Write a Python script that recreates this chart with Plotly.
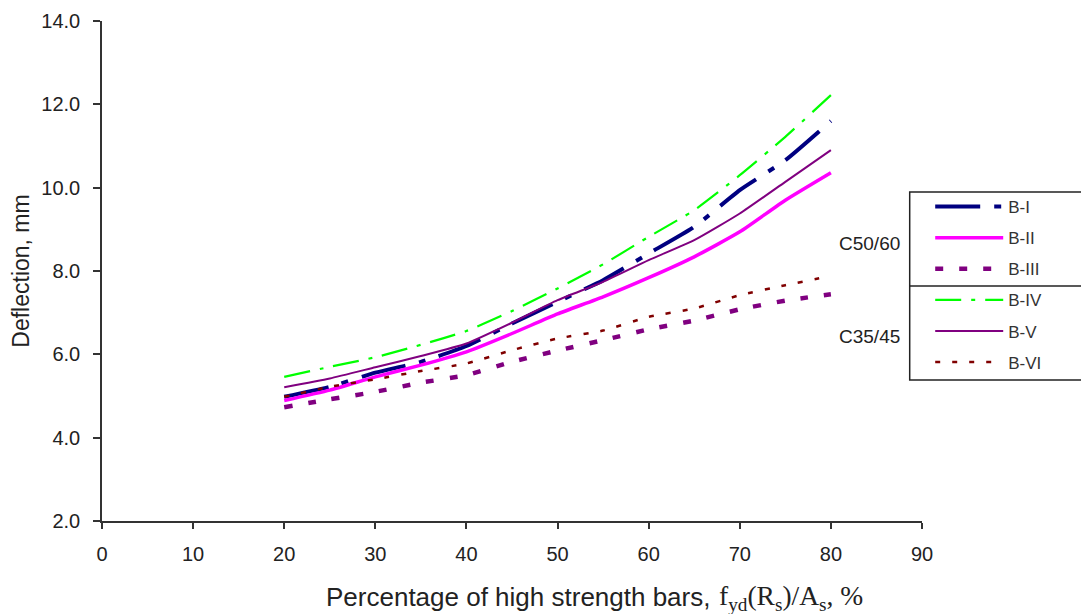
import plotly.graph_objects as go

x_pct = [20, 25, 30, 35, 40, 45, 50, 55, 60, 65, 70, 75, 80]
b1 = [4.98, 5.22, 5.56, 5.82, 6.20, 6.74, 7.26, 7.78, 8.42, 9.06, 9.94, 10.66, 11.60]
b2 = [4.89, 5.14, 5.46, 5.74, 6.06, 6.50, 6.97, 7.38, 7.84, 8.34, 8.94, 9.70, 10.36]
b3 = [4.73, 4.92, 5.10, 5.32, 5.50, 5.82, 6.09, 6.34, 6.60, 6.81, 7.08, 7.29, 7.44]
b4 = [5.46, 5.70, 5.93, 6.23, 6.56, 7.04, 7.58, 8.16, 8.82, 9.46, 10.30, 11.22, 12.22]
b5 = [5.21, 5.42, 5.69, 5.96, 6.26, 6.76, 7.30, 7.74, 8.26, 8.74, 9.38, 10.14, 10.90]
b6 = [4.98, 5.22, 5.40, 5.60, 5.78, 6.10, 6.38, 6.57, 6.90, 7.10, 7.42, 7.66, 7.88]

series_names = ["B-I", "B-II", "B-III", "B-IV", "B-V", "B-VI"]
series_values = [b1, b2, b3, b4, b5, b6]
styles = [
    dict(color="#000080", width=4, dash="45px,14px,7px,14px"),
    dict(color="#FF00FF", width=3.5, dash="solid"),
    dict(color="#800080", width=4.5, dash="8px,16px"),
    dict(color="#00FF00", width=2.2, dash="26px,10px,4px,10px"),
    dict(color="#800080", width=2, dash="solid"),
    dict(color="#800000", width=2.5, dash="5px,12px"),
]

x_title_text = "Percentage of high strength bars,"
x_title_formula = "f<sub>yd</sub>(R<sub>s</sub>)/A<sub>s</sub>, %"

fig = go.Figure()
for name, ys, st in zip(series_names, series_values, styles):
    fig.add_trace(go.Scatter(
        x=x_pct, y=ys, name=name, mode="lines",
        line=dict(shape="spline", smoothing=0.5, **st),
        legendgroup=name,
    ))

fig.update_layout(
    width=1089, height=614,
    margin=dict(l=94, r=175, t=13, b=101, autoexpand=False),
    paper_bgcolor="white", plot_bgcolor="white",
    font=dict(family="Liberation Sans, Arial, sans-serif", color="#222"),
    showlegend=True,
    legend=dict(
        x=1.010, y=0.664, xanchor="left", yanchor="top",
        bgcolor="rgba(0,0,0,0)", borderwidth=0,
        font=dict(size=17, color="#333"),
        itemwidth=68, tracegroupgap=6,
        traceorder="grouped",
    ),
    xaxis=dict(
        range=[0, 90], tickvals=list(range(0, 91, 10)),
        showline=True, linecolor="#333", linewidth=1.5,
        ticks="outside", ticklen=6, tickcolor="#333", tickwidth=1.5,
        ticklabelstandoff=8,
        showgrid=False, zeroline=False,
        tickfont=dict(size=20, color="#222"),
    ),
    yaxis=dict(
        range=[2, 14], tickvals=[2, 4, 6, 8, 10, 12, 14], tickformat=".1f",
        showline=True, linecolor="#333", linewidth=1.5,
        ticks="outside", ticklen=7, tickcolor="#333", tickwidth=1.5,
        ticklabelstandoff=9,
        showgrid=False, zeroline=False,
        tickfont=dict(size=20, color="#222"),
        title=dict(text="Deflection, mm", font=dict(size=23, color="#222"), standoff=10),
    ),
    shapes=[
        dict(type="rect", xref="paper", yref="paper", x0=0.985, x1=1.30, y0=0.282, y1=0.658,
             line=dict(color="#222", width=1.5), fillcolor="rgba(0,0,0,0)"),
        dict(type="line", xref="paper", yref="paper", x0=0.985, x1=1.30, y0=0.47, y1=0.47,
             line=dict(color="#222", width=1.5)),
    ],
    annotations=[
        dict(text=x_title_text, xref="paper", yref="paper", x=0.7439, y=-0.152, xanchor="right",
             yanchor="middle", showarrow=False, font=dict(size=26, color="#222")),
        dict(text=x_title_formula, xref="paper", yref="paper", x=0.7500, y=-0.152, xanchor="left",
             yanchor="middle", showarrow=False,
             font=dict(size=27.5, color="#222", family="Liberation Serif, Times New Roman, serif")),
        dict(text="C50/60", xref="paper", yref="paper", x=0.976, y=0.554, xanchor="right",
             yanchor="middle", showarrow=False, font=dict(size=19, color="#222")),
        dict(text="C35/45", xref="paper", yref="paper", x=0.976, y=0.37, xanchor="right",
             yanchor="middle", showarrow=False, font=dict(size=19, color="#222")),
    ],
)

fig.write_html("out.html")
